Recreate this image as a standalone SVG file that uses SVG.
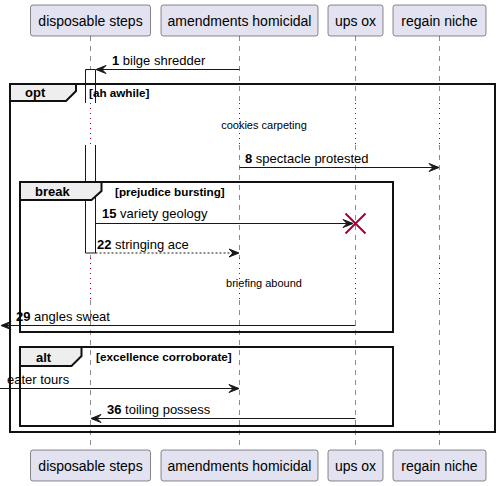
<svg xmlns="http://www.w3.org/2000/svg" width="500" height="486" viewBox="0 0 500 486">
<defs>
<style>
.part{fill:#E2E2F0;stroke:#181818;stroke-width:0.5}
.ptxt{font-family:"Liberation Sans",Arial,sans-serif;font-size:14px;fill:#000;text-anchor:middle}
.life{stroke:#181818;stroke-width:0.5;stroke-dasharray:5,5;fill:none}
.delay{stroke:#A80036;stroke-width:1;stroke-dasharray:1,4;fill:none}
.act{fill:#FFFFFF;stroke:#181818;stroke-width:1}
.frame{fill:none;stroke:#111;stroke-width:2}
.tab{fill:#EEEEEE;stroke:#111;stroke-width:2}
.gl{font-family:"Liberation Sans",Arial,sans-serif;font-size:13px;font-weight:bold;fill:#000}
.cond{font-family:"Liberation Sans",Arial,sans-serif;font-size:11.7px;font-weight:bold;fill:#000}
.msg{stroke:#181818;stroke-width:1;fill:none}
.dash{stroke-dasharray:2,2}
.mt{font-family:"Liberation Sans",Arial,sans-serif;font-size:13px;fill:#000}
.num{font-weight:bold}
.dt{font-family:"Liberation Sans",Arial,sans-serif;font-size:11px;fill:#000;text-anchor:middle}
.head{fill:#181818;stroke:#181818;stroke-width:1}
</style>
</defs>
<g id="lifelines">
<path class="life" d="M90.5,36 V103 M90.5,145 V258 M90.5,300 V450"/>
<path class="life" d="M239.5,36 V103 M239.5,145 V258 M239.5,300 V450"/>
<path class="life" d="M355.5,36 V103 M355.5,145 V258 M355.5,300 V450"/>
<path class="life" d="M439.5,36 V103 M439.5,145 V258 M439.5,300 V450"/>
<path class="delay" d="M90.5,103 V145 M239.5,103 V145 M355.5,103 V145 M439.5,103 V145"/>
<path class="delay" d="M90.5,258 V300 M239.5,258 V300 M355.5,258 V300 M439.5,258 V300"/>
</g>
<g id="activation">
<path d="M85.5,103 V69.5 H95.5 V103 Z" fill="#FFFFFF" stroke="none"/>
<path class="act" d="M85.5,103 V69.5 H95.5 V103" fill="none"/>
<path d="M85.5,145 H95.5 V253 H85.5 Z" fill="#FFFFFF" stroke="none"/>
<path class="act" d="M85.5,145 V253 H95.5 V145" fill="none"/>
</g>
<g id="frame-opt">
<rect class="frame" x="10" y="84" width="485" height="348"/>
<path class="tab" d="M10,84 H76 V91 L66,101 H10 Z"/>
<text class="gl" x="25" y="97">opt</text>
<text class="cond" x="89" y="97">[ah awhile]</text>
</g>
<g id="delay-1">
<text class="dt" x="264" y="129">cookies carpeting</text>
</g>
<g id="frame-break">
<rect class="frame" x="20" y="182" width="373" height="150"/>
<path class="tab" d="M20,182 H101.5 V191 L91.5,200 H20 Z"/>
<text class="gl" x="35" y="196">break</text>
<text class="cond" x="115" y="196">[prejudice bursting]</text>
</g>
<g id="delay-2">
<text class="dt" x="264" y="287">briefing abound</text>
</g>
<g id="frame-alt">
<rect class="frame" x="20" y="347" width="373" height="79"/>
<path class="tab" d="M20,347 H81.5 V356 L71.5,366 H20 Z"/>
<text class="gl" x="36" y="362">alt</text>
<text class="cond" x="96" y="361">[excellence corroborate]</text>
</g>
<g id="connectors">
<line class="msg" x1="239.5" y1="69.5" x2="97" y2="69.5"/>
<polygon class="head" points="96,69.5 106,65.5 102,69.5 106,73.5"/>
<text class="mt" x="112" y="65"><tspan class="num">1</tspan> bilge shredder</text>

<line class="msg" x1="239.5" y1="167.5" x2="438" y2="167.5"/>
<polygon class="head" points="439,167.5 429,163.5 433,167.5 429,171.5"/>
<text class="mt" x="245" y="163"><tspan class="num">8</tspan> spectacle protested</text>

<line class="msg" x1="95.5" y1="223.5" x2="352" y2="223.5"/>
<polygon class="head" points="353,223.5 343,219.5 347,223.5 343,227.5"/>
<text class="mt" x="102" y="218"><tspan class="num">15</tspan> variety geology</text>
<path d="M345.5,213.5 L365.5,233.5 M345.5,233.5 L365.5,213.5" stroke="#A80036" stroke-width="2" fill="none"/>

<line class="msg dash" x1="95.5" y1="253" x2="238" y2="253"/>
<polygon class="head" points="239,253 229,249 233,253 229,257"/>
<text class="mt" x="97" y="249"><tspan class="num">22</tspan> stringing ace</text>

<line class="msg" x1="355.5" y1="325.5" x2="2" y2="325.5"/>
<polygon class="head" points="1,325.5 11,321.5 7,325.5 11,329.5"/>
<text class="mt" x="16" y="321"><tspan class="num">29</tspan> angles sweat</text>

<line class="msg" x1="0" y1="388.5" x2="238" y2="388.5"/>
<polygon class="head" points="239,388.5 229,384.5 233,388.5 229,392.5"/>
<text class="mt" x="7" y="384">eater tours</text>

<line class="msg" x1="355.5" y1="418.5" x2="92" y2="418.5"/>
<polygon class="head" points="91,418.5 101,414.5 97,418.5 101,422.5"/>
<text class="mt" x="107" y="414"><tspan class="num">36</tspan> toiling possess</text>
</g>
<g id="p-disposable-steps">
<rect class="part" x="30.5" y="5" width="120" height="31" rx="2.5"/>
<text class="ptxt" x="90.5" y="26">disposable steps</text>
<rect class="part" x="30.5" y="450" width="120" height="31" rx="2.5"/>
<text class="ptxt" x="90.5" y="471">disposable steps</text>
</g>
<g id="p-amendments-homicidal">
<rect class="part" x="161" y="5" width="157" height="31" rx="2.5"/>
<text class="ptxt" x="239.5" y="26">amendments homicidal</text>
<rect class="part" x="161" y="450" width="157" height="31" rx="2.5"/>
<text class="ptxt" x="239.5" y="471">amendments homicidal</text>
</g>
<g id="p-ups-ox">
<rect class="part" x="328" y="5" width="55" height="31" rx="2.5"/>
<text class="ptxt" x="355.5" y="26">ups ox</text>
<rect class="part" x="328" y="450" width="55" height="31" rx="2.5"/>
<text class="ptxt" x="355.5" y="471">ups ox</text>
</g>
<g id="p-regain-niche">
<rect class="part" x="393" y="5" width="93" height="31" rx="2.5"/>
<text class="ptxt" x="439.5" y="26">regain niche</text>
<rect class="part" x="393" y="450" width="93" height="31" rx="2.5"/>
<text class="ptxt" x="439.5" y="471">regain niche</text>
</g>
</svg>
